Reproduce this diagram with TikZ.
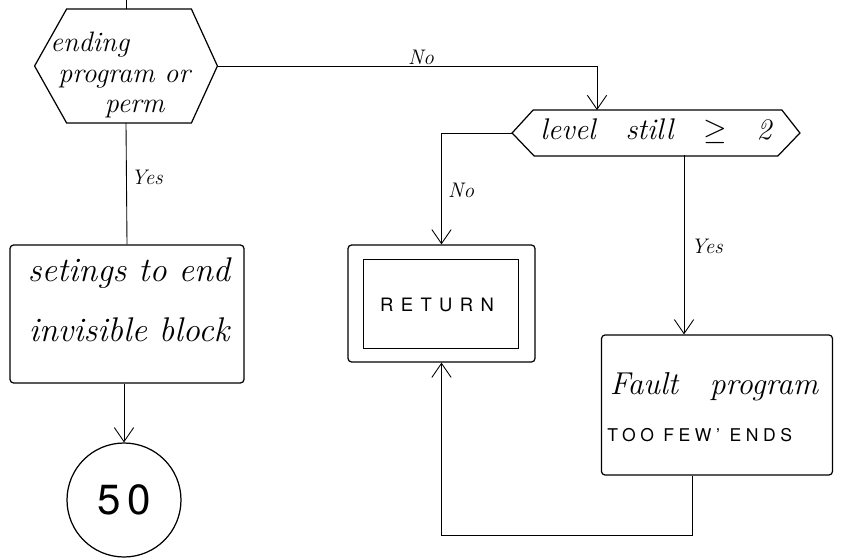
\documentclass[tikz,border=0pt]{standalone}
\usepackage{fontspec}
\newfontfamily\capsfont[LetterSpace=40]{TeX Gyre Heros}
\newfontfamily\capsfontb[LetterSpace=26]{TeX Gyre Heros}
\newfontfamily\digitfont{TeX Gyre Heros}
\usetikzlibrary{arrows.meta,calc}
\begin{document}
\begin{tikzpicture}[x=0.02cm,y=-0.02cm,
  line width=0.5pt,
  arr/.style={-{Straight Barb[length=8pt,width=11pt,line width=0.5pt]}},
  box/.style={draw,line width=0.7pt,rounded corners=2pt,inner sep=0pt},
  shp/.style={draw,line width=0.7pt},
  hand/.style={font=\fontsize{17}{19}\selectfont\itshape,align=left,inner sep=0pt},
  lab/.style={font=\fontsize{12}{14}\selectfont\itshape,inner sep=1pt}]
\useasboundingbox[fill=white] (0,0) rectangle (841,560);

% shapes
\node[inner sep=0pt,minimum width=3.64cm,minimum height=2.26cm] (d1) at (126,66) {};
\draw[shp] (d1.west) -- ($(d1.north west)+(32,0)$) -- ($(d1.north east)+(-26,0)$) -- (d1.east)
  -- ($(d1.south east)+(-26,0)$) -- ($(d1.south west)+(32,0)$) -- cycle;
\node[hand,anchor=west,font=\fontsize{16}{18.5}\selectfont\itshape] (d1t) at (50,75) {ending\\[-1pt]\hspace*{4.5pt}program\ or\\[-1pt]\hspace*{31pt}perm};

\node[inner sep=0pt,minimum width=5.74cm,minimum height=0.9cm] (d2) at (656,133) {};
\draw[shp] (d2.west) -- ($(d2.north west)+(21,0)$) -- ($(d2.north east)+(-18,0)$) -- (d2.east)
  -- ($(d2.south east)+(-22,0)$) -- ($(d2.south west)+(22,0)$) -- cycle;
\node[hand] (d2t) at (656,131) {level\quad still\quad$\geq$\quad 2};

\node[box,minimum width=4.68cm,minimum height=2.76cm] (s) at (127,314) {};
\node[hand,align=center,font=\fontsize{19.5}{34}\selectfont\itshape] (st) at (129,300) {setings to end\\invisible block};

\node[draw,line width=0.7pt,circle,minimum size=2.28cm,inner sep=0pt,font=\digitfont\fontsize{24}{26}\selectfont] (c) at (124,500) {5\,0};

\node[box,minimum width=3.74cm,minimum height=2.34cm] (r) at (441.5,303.5) {};
\node[draw,line width=0.5pt,inner sep=0pt,minimum width=3.1cm,minimum height=1.78cm] (ri) at (440.5,303.5) {};
\node[font=\capsfont\fontsize{10.5}{12}\selectfont,inner sep=0pt] (rt) at (437,305) {RETURN};

\node[box,minimum width=4.62cm,minimum height=2.8cm] (f) at (717,405) {};
\node[hand,font=\fontsize{18}{20}\selectfont\itshape] (ft1) at (714,387) {Fault\quad program};
\node[font=\capsfontb\fontsize{10}{12}\selectfont,inner sep=0pt,anchor=west] (ft2) at (607,435) {TOO FEW’ ENDS};

% connectors
\coordinate (tin) at (126,0);
\draw (tin) -- (d1.north);

\coordinate (nb) at (597,66);
\draw[arr] (d1.east) -- (nb) -- (nb |- d2.north);
\node[lab] (no1) at (421,57) {No};

\draw[arr] (d2.west) -| (r.north);
\node[lab,anchor=west] (no2) at (446,190) {No};

\coordinate (ys) at (684,155);
\draw[arr] (ys) -- (ys |- f.north);
\node[lab,anchor=west] (yes2) at (689,246) {Yes};

\draw (d1.south) -- (s.north);
\node[lab,anchor=west] (yes1) at (129,177) {Yes};

\draw[arr] (s.south -| c.north) -- (c.north);

\coordinate (fb) at (692,535);
\draw[arr] (f.south -| fb) -- (fb) -| (r.south);
\end{tikzpicture}
\end{document}
